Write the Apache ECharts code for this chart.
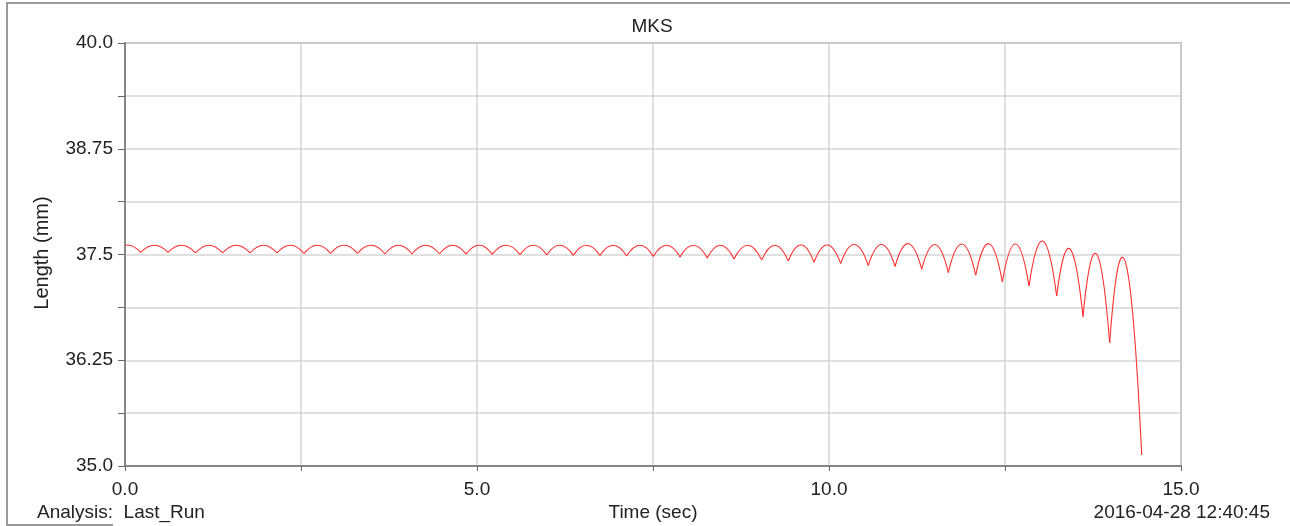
<!DOCTYPE html>
<html lang="en">

<head>
    <meta charset="UTF-8">
    <title>MKS</title>
    <script src="https://cdn.jsdelivr.net/npm/echarts@6/dist/echarts.min.js"></script>
    <style>
        html, body { margin: 0; padding: 0; background: #fff; }
        #chart { width: 1290px; height: 526px; }
    </style>
</head>

<body>
    <div id="chart"></div>

    <script>
        // points where the trace touches down (start, each cusp, end)
        const timeSec = [0, 0.223, 0.611, 1.001, 1.386, 1.776, 2.159, 2.543, 2.919, 3.303, 3.693, 4.077,
            4.467, 4.844, 5.217, 5.611, 5.990, 6.368, 6.747, 7.126, 7.504, 7.884, 8.271, 8.651, 9.044,
            9.422, 9.787, 10.166, 10.558, 10.938, 11.317, 11.695, 12.084, 12.462, 12.841, 13.234,
            13.608, 13.987, 14.442];
        const lengthMm = [37.610, 37.524, 37.524, 37.518, 37.518, 37.518, 37.518, 37.512, 37.512, 37.512,
            37.506, 37.506, 37.506, 37.504, 37.502, 37.498, 37.496, 37.490, 37.488, 37.482, 37.478,
            37.470, 37.459, 37.447, 37.435, 37.423, 37.408, 37.394, 37.369, 37.358, 37.325, 37.287,
            37.255, 37.175, 37.128, 37.009, 36.765, 36.457, 35.130];
        // top of each arc between two neighbouring points above
        const peakMm = [37.612, 37.610, 37.610, 37.610, 37.610, 37.610, 37.610, 37.610, 37.610, 37.610,
            37.610, 37.610, 37.610, 37.610, 37.610, 37.610, 37.610, 37.610, 37.610, 37.610, 37.610,
            37.610, 37.610, 37.610, 37.610, 37.612, 37.612, 37.618, 37.618, 37.628, 37.618, 37.624,
            37.628, 37.624, 37.660, 37.573, 37.514, 37.467];

        const xTickLabels = ['0.0', '5.0', '10.0', '15.0'];
        const yTickLabels = ['35.0', '36.25', '37.5', '38.75', '40.0'];

        const arcs = [];
        for (let i = 0; i < peakMm.length; i++) {
            arcs.push([timeSec[i], lengthMm[i], timeSec[i + 1], lengthMm[i + 1], peakMm[i]]);
        }

        const font = 'Liberation Sans, Arial, sans-serif';
        const txt = '19px ' + font;

        function pickLabel(labels, v, start, step) {
            const k = (v - start) / step;
            const r = Math.round(k);
            return Math.abs(k - r) < 1e-6 && labels[r] !== undefined ? labels[r] : '';
        }

        // each arc is a parabola through both ends with its top at the peak value
        function renderArc(params, api) {
            const t0 = api.value(0), v0 = api.value(1);
            const t1 = api.value(2), v1 = api.value(3);
            const vp = api.value(4);
            const da = Math.sqrt(Math.max(vp - v0, 1e-9));
            const db = Math.sqrt(Math.max(vp - v1, 1e-9));
            const tp = t0 + (t1 - t0) * da / (da + db);
            const k = Math.pow((da + db) / (t1 - t0), 2);
            const cx = (t0 + t1) / 2;
            const cy = v0 + k * (tp - t0) * (t1 - t0);
            const p0 = api.coord([t0, v0]);
            const p1 = api.coord([t1, v1]);
            const c = api.coord([cx, cy]);
            return {
                type: 'bezierCurve',
                shape: { x1: p0[0], y1: p0[1], x2: p1[0], y2: p1[1], cpx1: c[0], cpy1: c[1] },
                style: { stroke: '#ff3030', fill: 'none', lineWidth: 1.1 }
            };
        }

        const chart = echarts.init(document.getElementById('chart'));
        chart.setOption({
            animation: false,
            grid: {
                left: 125, right: 109, top: 43, bottom: 60,
                show: true, borderColor: '#a6a6a6', borderWidth: 2
            },
            xAxis: {
                type: 'value', min: 0, max: 15, interval: 2.5,
                axisLine: { show: true, onZero: false, lineStyle: { color: '#858585', width: 2 } },
                axisTick: { show: true, length: 5, lineStyle: { color: '#666' } },
                splitLine: { show: true, lineStyle: { color: '#d6d6d6', width: 1.5 } },
                axisLabel: {
                    margin: 14, fontFamily: font, fontSize: 19, color: '#222',
                    formatter: v => pickLabel(xTickLabels, v, 0, 5)
                }
            },
            yAxis: {
                type: 'value', min: 35, max: 40, interval: 0.625,
                axisLine: { show: true, onZero: false, lineStyle: { color: '#858585', width: 2 } },
                axisTick: { show: true, length: 7, lineStyle: { color: '#666' } },
                splitLine: { show: true, lineStyle: { color: '#d6d6d6', width: 1.5 } },
                axisLabel: {
                    margin: 12, fontFamily: font, fontSize: 19, color: '#222',
                    formatter: v => pickLabel(yTickLabels, v, 35, 1.25)
                }
            },
            graphic: [
                { type: 'polyline', shape: { points: [[1290, 3], [7, 3], [7, 526]] }, style: { stroke: '#9a9a9a', lineWidth: 2, fill: 'none' } },
                { type: 'line', shape: { x1: 7, y1: 525, x2: 113, y2: 525 }, style: { stroke: '#9a9a9a', lineWidth: 2 } },
                { type: 'text', x: 652, y: 27, style: { text: 'MKS', font: txt, fill: '#222', align: 'center', verticalAlign: 'middle' } },
                { type: 'text', x: 37, y: 513, style: { text: 'Analysis:  Last_Run', font: txt, fill: '#222', align: 'left', verticalAlign: 'middle' } },
                { type: 'text', x: 653, y: 513, style: { text: 'Time (sec)', font: txt, fill: '#222', align: 'center', verticalAlign: 'middle' } },
                { type: 'text', x: 1270, y: 513, style: { text: '2016-04-28 12:40:45', font: txt, fill: '#222', align: 'right', verticalAlign: 'middle' } },
                { type: 'text', x: 42, y: 253, rotation: Math.PI / 2, style: { text: 'Length (mm)', font: '20px ' + font, fill: '#222', align: 'center', verticalAlign: 'middle' } }
            ],
            series: [{
                type: 'custom',
                renderItem: renderArc,
                encode: { x: [0, 2], y: [1, 3, 4] },
                data: arcs,
                clip: true
            }]
        });
    </script>
</body>

</html>
